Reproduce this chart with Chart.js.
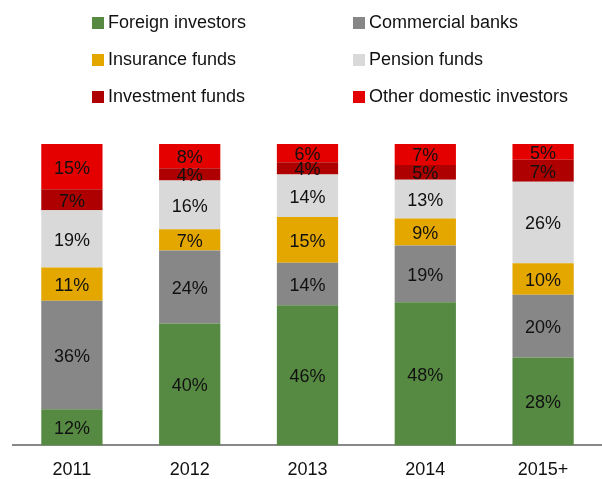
<!DOCTYPE html>
<html>
<head>
<meta charset="utf-8">
<script src="https://cdn.jsdelivr.net/npm/chart.js@4"></script>
<style>
  html, body { margin: 0; padding: 0; background: #fff; }
  #wrap { position: relative; width: 602px; height: 479px; }
  #chart { position: absolute; left: 0; top: 0; }
  .leg { position: absolute; height: 22px; line-height: 22px; font: 18px "Liberation Sans", Arial, sans-serif; color: #111; white-space: nowrap; }
  .leg span { display: inline-block; width: 12px; height: 12px; margin-right: 4px; vertical-align: -1px; }
</style>
</head>
<body>
<div id="wrap">
  <canvas id="chart" width="602" height="479"></canvas>
  <div id="legend"></div>
</div>
<script>
document.addEventListener('DOMContentLoaded', function () {

    const categories = ['2011', '2012', '2013', '2014', '2015+'];

    // printed shares (%) per year
    const foreign = [12, 40, 46, 48, 28];
    const banks = [36, 24, 14, 19, 20];
    const insurance = [11, 7, 15, 9, 10];
    const pension = [19, 16, 14, 13, 26];
    const investment = [7, 4, 4, 5, 7];
    const other = [15, 8, 6, 7, 5];

    const series = [
        { label: 'Foreign investors', values: foreign, color: '#568A43' },
        { label: 'Commercial banks', values: banks, color: '#878787' },
        { label: 'Insurance funds', values: insurance, color: '#E3A700' },
        { label: 'Pension funds', values: pension, color: '#D9D9D9' },
        { label: 'Investment funds', values: investment, color: '#AE0000' },
        { label: 'Other domestic investors', values: other, color: '#E50000' }
    ];

    // totals per year, so each bar fills 100%
    const totals = categories.map((c, i) => series.reduce((s, d) => s + d.values[i], 0));

    // legend, two columns
    const legend = document.getElementById('legend');
    series.forEach((s, i) => {
        const el = document.createElement('div');
        el.className = 'leg';
        el.style.left = (i % 2 === 0 ? 92 : 353) + 'px';
        el.style.top = (12 + Math.floor(i / 2) * 37) + 'px';
        el.innerHTML = '<span style="background:' + s.color + '"></span>' + s.label;
        legend.appendChild(el);
    });

    const segmentLabels = {
        id: 'segmentLabels',
        afterDatasetsDraw(chart) {
            const ctx = chart.ctx;
            ctx.save();
            ctx.font = '18px "Liberation Sans", Arial, sans-serif';
            ctx.fillStyle = '#111';
            ctx.textAlign = 'center';
            ctx.textBaseline = 'middle';
            chart.data.datasets.forEach((ds, di) => {
                chart.getDatasetMeta(di).data.forEach((bar, i) => {
                    const y = (bar.y + bar.base) / 2 + 2;
                    ctx.fillText(series[di].values[i] + '%', bar.x, y);
                });
            });
            ctx.restore();
        }
    };

    new Chart(document.getElementById('chart'), {
        type: 'bar',
        data: {
            labels: categories,
            datasets: series.map(s => ({
                label: s.label,
                data: s.values.map((v, i) => v / totals[i] * 100),
                backgroundColor: s.color,
                borderWidth: 0,
                barPercentage: 0.52,
                categoryPercentage: 1
            }))
        },
        options: {
            responsive: false,
            animation: false,
            layout: { padding: { top: 144, left: 13, right: 0, bottom: -16 } },
            plugins: {
                legend: { display: false },
                tooltip: { enabled: false }
            },
            scales: {
                x: {
                    stacked: true,
                    grid: { display: false, drawTicks: false },
                    border: { display: true, color: '#888', width: 2 },
                    ticks: {
                        padding: 14,
                        color: '#111',
                        font: { family: '"Liberation Sans", Arial, sans-serif', size: 18 }
                    }
                },
                y: {
                    stacked: true,
                    display: false,
                    min: 0,
                    max: 100
                }
            }
        },
        plugins: [segmentLabels]
    });

});
</script>
</body>
</html>
